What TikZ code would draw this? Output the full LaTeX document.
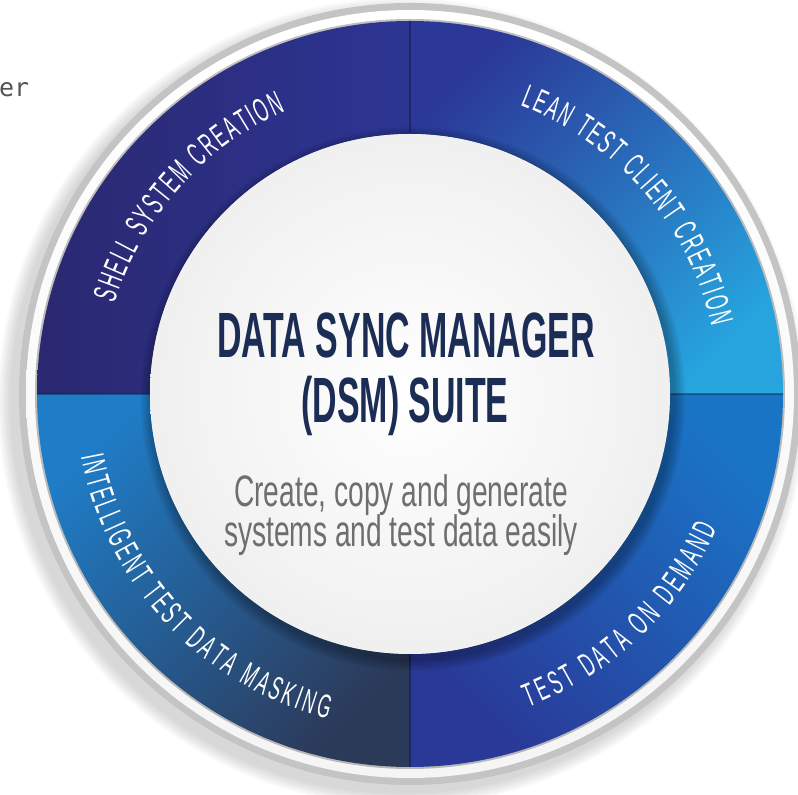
\documentclass[tikz,border=0pt]{standalone}
\usepackage{fontspec}
\usepackage{tikz}
\usetikzlibrary{calc,decorations.text}
\newfontfamily\headfont[FakeStretch=0.53]{Liberation Sans Bold}
\newfontfamily\taglinefont[FakeStretch=0.64]{Liberation Sans}
\newfontfamily\ringfont[FakeStretch=0.52]{Liberation Sans}
\newfontfamily\cutfont{DejaVu Sans Mono}
\definecolor{headblue}{HTML}{1B2D55}
\definecolor{taglinegrey}{HTML}{6E6E6E}
\definecolor{rimgrey}{HTML}{C4C4C4}
\definecolor{navyA}{HTML}{2A2870}
\definecolor{navyB}{HTML}{2D3593}
\definecolor{blueA}{HTML}{2B3898}
\definecolor{blueB}{HTML}{27A3DE}
\definecolor{slateA}{HTML}{1F7CC6}
\definecolor{slateB}{HTML}{2C3A5A}
\definecolor{royalA}{HTML}{2A3897}
\definecolor{royalB}{HTML}{1A74C6}
\def\ringout{373}
\def\ringin{260}
\def\ringtext{\ringfont\fontsize{33}{33}\selectfont\color{white}}

\begin{document}
\begin{tikzpicture}[x=1pt,y=1pt]
    \tikzstyle{headline}=[font=\headfont\fontsize{64}{64}\selectfont, text=headblue, anchor=base, inner sep=0pt]
    \tikzstyle{tagline}=[font=\taglinefont\fontsize{44}{44}\selectfont, text=taglinegrey, anchor=base, inner sep=0pt]
    \tikzstyle{divider}=[black, opacity=0.3, line width=1.2pt]

    \useasboundingbox (0,0) rectangle (798,795);
    \coordinate (C) at (410,401);

    % Draw the soft shadow and the grey rim
    \foreach \r in {392,394,...,404}
        \fill[black, opacity=0.025] ($(C)+(-8,-8)$) circle (\r);
    \fill[rimgrey] (C) circle (391);
    \shade[top color=white, bottom color=black!4] (C) circle (384);
    \fill[black, opacity=0.25] (C) circle (375);

    % Draw the four quarters of the ring
    \foreach \angA/\angB/\cola/\colb/\turn in {90/180/navyA/navyB/90, 0/90/blueA/blueB/45, 180/270/slateA/slateB/45, 270/360/royalB/royalA/-45}
        \shade[top color=\cola, bottom color=\colb, shading angle=\turn]
            ($(C)+(\angA:\ringout)$) arc[start angle=\angA, end angle=\angB, radius=\ringout]
            -- ($(C)+(\angB:\ringin)$) arc[start angle=\angB, end angle=\angA, radius=\ringin] -- cycle;

    % Draw the dividers between the quarters
    \foreach \ang in {0,90,180,270}
        \draw[divider] ($(C)+(\ang:\ringin)$) -- ($(C)+(\ang:\ringout)$);

    % Shadow under the white disc
    \foreach \r in {262,264,...,272}
        \fill[black, opacity=0.05] ($(C)+(3,-5)$) circle (\r);
    \shade[inner color=white, outer color=black!6] (C) circle (\ringin);

    % Label the ring
    \path[decorate, decoration={text along path, text align=fit to path, text={|\ringtext|SHELL SYSTEM CREATION}}]
        ($(C)+(163:309)$) arc[start angle=163, end angle=113.7, radius=309];
    \path[decorate, decoration={text along path, text align=fit to path, text={|\ringtext|LEAN TEST CLIENT CREATION}}]
        ($(C)+(69.1:309)$) arc[start angle=69.1, end angle=12.7, radius=309];
    \path[decorate, decoration={text along path, text align=fit to path, text={|\ringtext|INTELLIGENT TEST DATA MASKING}}]
        ($(C)+(190.7:335)$) arc[start angle=190.7, end angle=255.8, radius=335];
    \path[decorate, decoration={text along path, text align=fit to path, text={|\ringtext|TEST DATA ON DEMAND}}]
        ($(C)+(290.8:335)$) arc[start angle=290.8, end angle=336.4, radius=335];

    % Title and tag line
    \node[headline] (head) at (406,437) {DATA SYNC MANAGER};
    \node[headline] (suite) at (405,372) {(DSM) SUITE};
    \node[tagline] (tag1) at (401,288) {Create, copy and generate};
    \node[tagline] (tag2) at (401,248) {systems and test data easily};

    % The cut-off word at the top left
    \node[font=\cutfont\fontsize{25}{25}\selectfont, text=black!67, anchor=base west, inner sep=0pt] (cut) at (-1,698) {er};
\end{tikzpicture}
\end{document}
